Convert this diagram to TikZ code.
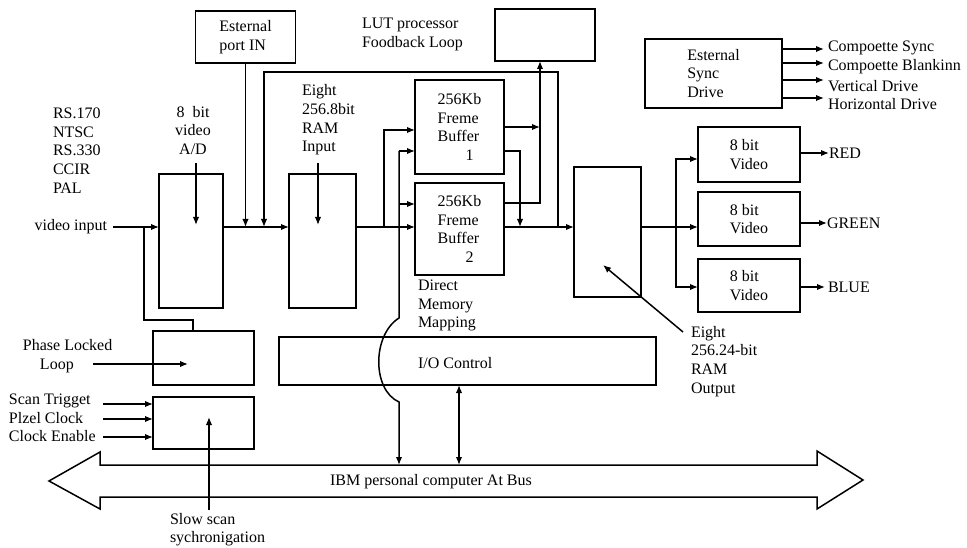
\documentclass[tikz,border=0pt]{standalone}
\usepackage{fontspec}
\setmainfont{Liberation Serif}
\usetikzlibrary{arrows.meta}
\begin{document}
\begin{tikzpicture}[x=1pt,y=-1pt,
  every node/.style={font=\fontsize{16}{18.7}\selectfont, inner sep=0pt, outer sep=0pt},
  box/.style={draw, line width=1.5pt, inner sep=0pt},
  lbl/.style={align=left},
  line/.style={line width=1.5pt},
  arr/.style={line width=1.5pt, -{Latex[length=8pt,width=6.5pt]}},
  darr/.style={line width=1.5pt, {Latex[length=8pt,width=6.5pt]}-{Latex[length=8pt,width=6.5pt]}}]
\useasboundingbox (0,0) rectangle (967,548);

% boxes
\node[box, minimum width=100pt, minimum height=52pt, align=left] (ext) at (245.5,37) {Esternal\\port IN};
\node[box, minimum width=64pt, minimum height=134pt] (ad) at (191,241) {};
\node[box, minimum width=67pt, minimum height=134pt] (ramin) at (322.5,241) {};
\node[box, minimum width=100pt, minimum height=52pt] (lut) at (545,35) {};
\node[box, minimum width=89pt, minimum height=94pt, align=left] (fb1) at (459.5,127) {256Kb\\Freme\\Buffer\\\hspace*{28pt}1};
\node[box, minimum width=89pt, minimum height=92pt, align=left] (fb2) at (459.5,229) {256Kb\\Freme\\Buffer\\\hspace*{28pt}2};
\node[box, minimum width=67pt, minimum height=130pt] (ramout) at (607.5,232) {};
\node[box, minimum width=137pt, minimum height=69pt, align=left] (sync) at (713.5,73.5) {Esternal\\Sync\\Drive};
\node[box, minimum width=102pt, minimum height=55pt, align=left] (v1) at (749,154.5) {8 bit\\Video};
\node[box, minimum width=102pt, minimum height=54pt, align=left] (v2) at (749,219) {8 bit\\Video};
\node[box, minimum width=102pt, minimum height=53pt, align=left] (v3) at (749,285.5) {8 bit\\Video};
\node[box, minimum width=101pt, minimum height=54pt] (pll) at (203.5,358) {};
\node[box, minimum width=377pt, minimum height=48pt] (io) at (467.5,361) {};
\node[box, minimum width=101pt, minimum height=52pt] (slow) at (203.5,423) {};

% bus
\draw[line] (100,465) -- (817,465) -- (817,451) -- (863,480) -- (817,509) -- (817,497) -- (100,497) -- (100,509) -- (49,481) -- (100,452) -- cycle;
\coordinate (bt) at (0,465);

% labels
\node[lbl, anchor=west] (rs) at (53,150.5) {RS.170\\NTSC\\RS.330\\CCIR\\PAL};
\node[align=center] (adl) at (193,130.5) {8\ \ bit\\video\\A/D};
\node[lbl, anchor=west] (ril) at (302,120) {Eight\\256.8bit\\RAM\\Input};
\node[lbl, anchor=west] (lutl) at (362,34.5) {LUT processor\\Foodback Loop};
\node[lbl, anchor=west] (dmm) at (418,305.5) {Direct\\Memory\\Mapping};
\node[lbl, anchor=west] (rol) at (691,361.5) {Eight\\256.24-bit\\RAM\\Output};
\node[lbl, anchor=west] (plll) at (23,356.5) {Phase Locked\\\hspace*{17pt}Loop};
\node[lbl, anchor=west, font=\fontsize{16}{17.5}\selectfont] (ssl) at (170,529.5) {Slow scan\\sychronigation};
\node[anchor=west] (st) at (9,401) {Scan Trigget};
\node[anchor=west] (pc) at (9,418) {Plzel Clock};
\node[anchor=west] (ce) at (9,436) {Clock Enable};
\node[anchor=east] (vin) at (107,227) {video input};
\node (busl) at (431,482) {IBM personal computer At Bus};
\node[anchor=west] (iot) at (418,363) {I/O Control};
\node[anchor=west] (o1) at (828,48) {Compoette Sync};
\node[anchor=west] (o2) at (828,67) {Compoette Blankinn};
\node[anchor=west] (o3) at (828,86) {Vertical Drive};
\node[anchor=west] (o4) at (828,104) {Horizontal Drive};
\node[anchor=west] (red) at (829,153) {RED};
\node[anchor=west] (green) at (827,223) {GREEN};
\node[anchor=west] (blue) at (828,287) {BLUE};

% connectors
\coordinate (r) at (0,227);
\coordinate (v0) at (113,227);
\draw[arr] (v0) -- (v0 -| ad.west);
\coordinate (b1) at (144,227);
\coordinate (p1) at (193,320);
\draw[line] (b1) |- (p1) -- (p1 |- pll.north);
\draw[arr] (ad.east |- r) -- (ramin.west |- r);
\draw[arr] (ext.south) -- (ext.south |- r);
\coordinate (j1) at (558,227);
\coordinate (j2) at (264,72);
\draw[arr] (j1) |- (j2) -- (j2 |- r);
\coordinate (a1) at (196,163);
\draw[arr] (a1) -- ++(0,62);
\coordinate (a2) at (318,163);
\draw[arr] (a2) -- ++(0,62);

\draw[arr] (ramin.east |- r) -- (fb2.west |- r);
\coordinate (k1) at (384,130);
\draw[arr] (k1 |- r) -- (k1) -- (k1 -| fb1.west);
\coordinate (m1) at (399,151);
\coordinate (m2) at (399,318);
\coordinate (m3) at (399,402);
\coordinate (m4) at (399,204);
\draw[arr] (m1) -- (m1 -| fb1.west);
\draw[arr] (m4) -- (m4 -| fb2.west);
\draw[arr] (m1) -- (m2) .. controls (372,335) and (372,390) .. (m3) -- (m3 |- bt);

\coordinate (n1) at (540,203);
\coordinate (n2) at (540,127);
\coordinate (n3) at (520,151);
\draw[arr] (fb2.east |- n1) -- (n1) -- (n1 |- lut.south);
\draw[arr] (fb1.east |- n2) -- (n2);
\draw[arr] (fb1.east |- n3) -- (n3) -- (n3 |- r);
\draw[arr] (fb2.east |- r) -- (ramout.west |- r);

\coordinate (g0) at (683,332);
\coordinate (g1) at (603,265);
\draw[arr] (g0) -- (g1);

\coordinate (s1) at (676,159);
\coordinate (s2) at (676,287);
\draw[arr] (ramout.east |- r) -- (v2.west |- r);
\draw[arr] (s1 |- r) -- (s1) -- (s1 -| v1.west);
\draw[arr] (s1 |- r) -- (s2) -- (s2 -| v3.west);
\draw[arr] (v1.east |- red.west) -- (red.west);
\draw[arr] (v2.east |- green.west) -- (green.west);
\draw[arr] (v3.east |- blue.west) -- ([xshift=-3pt]blue.west);

\draw[arr, shorten >=4pt] (sync.east |- 0,49) -- (o1.west |- 0,49);
\draw[arr, shorten >=4pt] (sync.east |- 0,63) -- (o2.west |- 0,63);
\draw[arr, shorten >=4pt] (sync.east |- 0,80) -- (o3.west |- 0,80);
\draw[arr, shorten >=4pt] (sync.east |- 0,98) -- (o4.west |- 0,98);

\coordinate (u1) at (93,364);
\draw[arr] (u1) -- ++(95,0);
\coordinate (w) at (103,0);
\draw[arr] (w |- 0,404) -- (slow.west |- 0,404);
\draw[arr] (w |- 0,419) -- (slow.west |- 0,419);
\draw[arr] (w |- 0,437) -- (slow.west |- 0,437);
\coordinate (z) at (209,510);
\draw[arr] (z) -- ++(0,-93);

\coordinate (iob) at (459,0);
\draw[darr] (io.south -| iob) -- (bt -| iob);
\end{tikzpicture}
\end{document}
